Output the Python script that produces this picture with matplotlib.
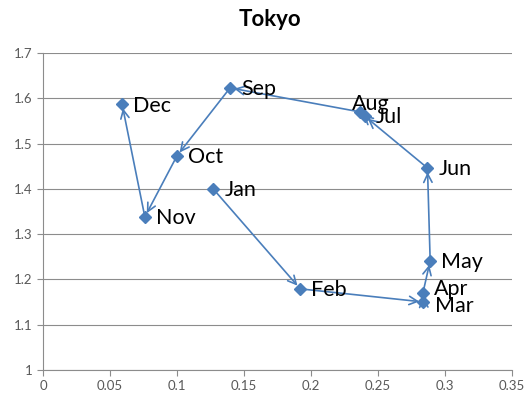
import matplotlib

matplotlib.use("Agg")
import matplotlib.pyplot as plt  # noqa: E402

# monthly points for Tokyo
MONTHS = ["Jan", "Feb", "Mar", "Apr", "May", "Jun",
          "Jul", "Aug", "Sep", "Oct", "Nov", "Dec"]
X_VALS = [0.127, 0.192, 0.284, 0.2836, 0.289, 0.287,
          0.240, 0.2366, 0.1396, 0.100, 0.076, 0.059]
Y_VALS = [1.400, 1.179, 1.150, 1.170, 1.241, 1.446,
          1.561, 1.570, 1.623, 1.473, 1.338, 1.587]

BLUE = "#4A7EBB"
GRID = "#8C8C8C"

plt.rcParams["font.family"] = ["Lato", "DejaVu Sans"]

fig = plt.figure(figsize=(5.25, 3.96), dpi=100)
ax = fig.add_axes([0.082, 0.066, 0.893, 0.800])

# arrows month to month
for i in range(len(MONTHS) - 1):
    ax.annotate(
        "",
        xy=(X_VALS[i + 1], Y_VALS[i + 1]),
        xytext=(X_VALS[i], Y_VALS[i]),
        arrowprops=dict(arrowstyle="->,head_length=0.6,head_width=0.3",
                        color=BLUE, lw=1.2, shrinkA=0, shrinkB=3),
        zorder=3,
    )
ax.plot(X_VALS, Y_VALS, linestyle="none", marker="D", ms=6.5,
        color=BLUE, zorder=4)

# data labels, mostly to the right of each marker
offsets = {"Aug": (-6, 6), "Mar": (8, -3), "Apr": (8, 3)}
for m, x, y in zip(MONTHS, X_VALS, Y_VALS):
    dx, dy = offsets.get(m, (8, -1))
    ax.annotate(m, (x, y), xytext=(dx, dy), textcoords="offset points",
                ha="left", va="center", fontsize=15.5, color="black", zorder=5)

ax.set_xlim(0, 0.35)
ax.set_ylim(1, 1.7)
ax.set_xticks([0, 0.05, 0.1, 0.15, 0.2, 0.25, 0.3, 0.35])
ax.set_xticklabels(["0", "0.05", "0.1", "0.15", "0.2", "0.25", "0.3", "0.35"])
ax.set_yticks([1, 1.1, 1.2, 1.3, 1.4, 1.5, 1.6, 1.7])
ax.set_yticklabels(["1", "1.1", "1.2", "1.3", "1.4", "1.5", "1.6", "1.7"])
ax.grid(axis="y", color=GRID, lw=0.8)
ax.set_axisbelow(True)
for s in ("top", "right"):
    ax.spines[s].set_visible(False)
for s in ("left", "bottom"):
    ax.spines[s].set_color(GRID)
ax.tick_params(colors=GRID, labelcolor="#595959", labelsize=9.5, length=4)

fig.text(0.514, 0.934, "Tokyo", fontsize=16, fontweight="bold",
         ha="center", va="baseline")

fig.savefig("out.png", dpi=100)
